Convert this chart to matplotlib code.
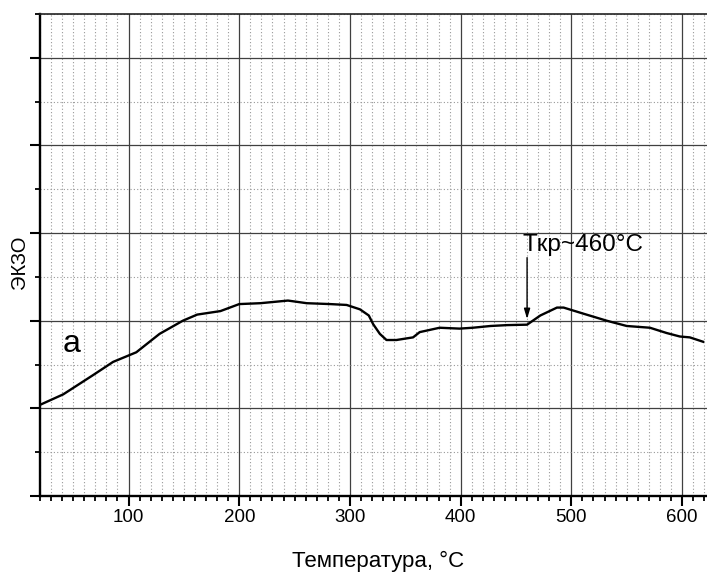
import matplotlib
matplotlib.use("Agg")
import matplotlib.pyplot as plt
from matplotlib.ticker import MultipleLocator, NullFormatter

plt.rcParams['font.family'] = ['Liberation Sans', 'DejaVu Sans']

temperature = [20, 41, 68, 86, 107, 128, 149, 162, 183, 200, 219, 244, 261, 282,
               297, 309, 317, 321, 327, 333, 342, 357, 363, 381, 399, 411, 427,
               442, 460, 472, 487, 493, 511, 532, 550, 571, 586, 598, 607, 619]
exo = [1.04, 1.16, 1.38, 1.53, 1.64, 1.85, 2.0, 2.07, 2.11, 2.19, 2.2, 2.23, 2.2,
       2.19, 2.18, 2.13, 2.06, 1.96, 1.85, 1.78, 1.78, 1.81, 1.87, 1.92, 1.91,
       1.92, 1.94, 1.95, 1.955, 2.06, 2.15, 2.15, 2.08, 2.0, 1.94, 1.92, 1.86,
       1.82, 1.81, 1.76]
x_ticks = [100, 200, 300, 400, 500, 600]
x_label = "Температура, °C"
y_label = "ЭКЗО"
t_crit = 460
t_crit_label = "Tкр~460°C"
curve_label = "a"

W, H = 707, 576
fig = plt.figure(figsize=(W / 100, H / 100), dpi=100)
left, bottom, top = 40, 496, 14
xmin, xmax = 20, 640
px_per_unit = 1.107
width_px = (xmax - xmin) * px_per_unit
ax = fig.add_axes([left / W, 1 - bottom / H, width_px / W, (bottom - top) / H])

ax.plot(temperature, exo, color='black', lw=1.7, zorder=3)
ax.set_xlim(xmin, xmax)
ax.set_ylim(0, 5.5)

ax.xaxis.set_major_locator(MultipleLocator(100))
ax.xaxis.set_minor_locator(MultipleLocator(10))
ax.yaxis.set_major_locator(MultipleLocator(1))
ax.yaxis.set_minor_locator(MultipleLocator(0.5))
ax.set_xticks(x_ticks)
ax.set_xticklabels([str(t) for t in x_ticks])
ax.yaxis.set_major_formatter(NullFormatter())

ax.grid(True, which='major', color='#404040', lw=0.9, ls='-', zorder=1)
ax.grid(True, which='minor', color='#999999', lw=0.8, ls=(0, (1, 2)), zorder=0)
ax.set_axisbelow(True)

ax.tick_params(axis='both', which='major', direction='out', length=7.2, width=1.5,
               labelsize=13.5, pad=2)
ax.tick_params(axis='both', which='minor', direction='out', length=3.6, width=1.3)
ax.tick_params(top=False, right=False)

for s in ['left', 'bottom']:
    ax.spines[s].set_linewidth(1.7)
ax.spines['top'].set_linewidth(1.2)
ax.spines['top'].set_color('#222222')

ax.annotate('', xy=(t_crit, 2.02), xytext=(t_crit, 2.72),
            arrowprops=dict(arrowstyle='-|>,head_length=0.4,head_width=0.12',
                            lw=1.0, color='black', mutation_scale=15,
                            shrinkA=0, shrinkB=0), zorder=4)
ax.text(456.3, 2.80, t_crit_label, fontsize=17.5, ha='left', va='baseline', zorder=4)
ax.text(48.9, 1.74, curve_label, fontsize=23, ha='center', va='center', zorder=4)

fig.text(378 / W, 1 - 561 / H, x_label, fontsize=16, ha='center', va='center')
fig.text(20 / W, 1 - 262 / H, y_label, fontsize=14.5, ha='center', va='center',
         rotation=90)

fig.savefig('out.png', dpi=100)
